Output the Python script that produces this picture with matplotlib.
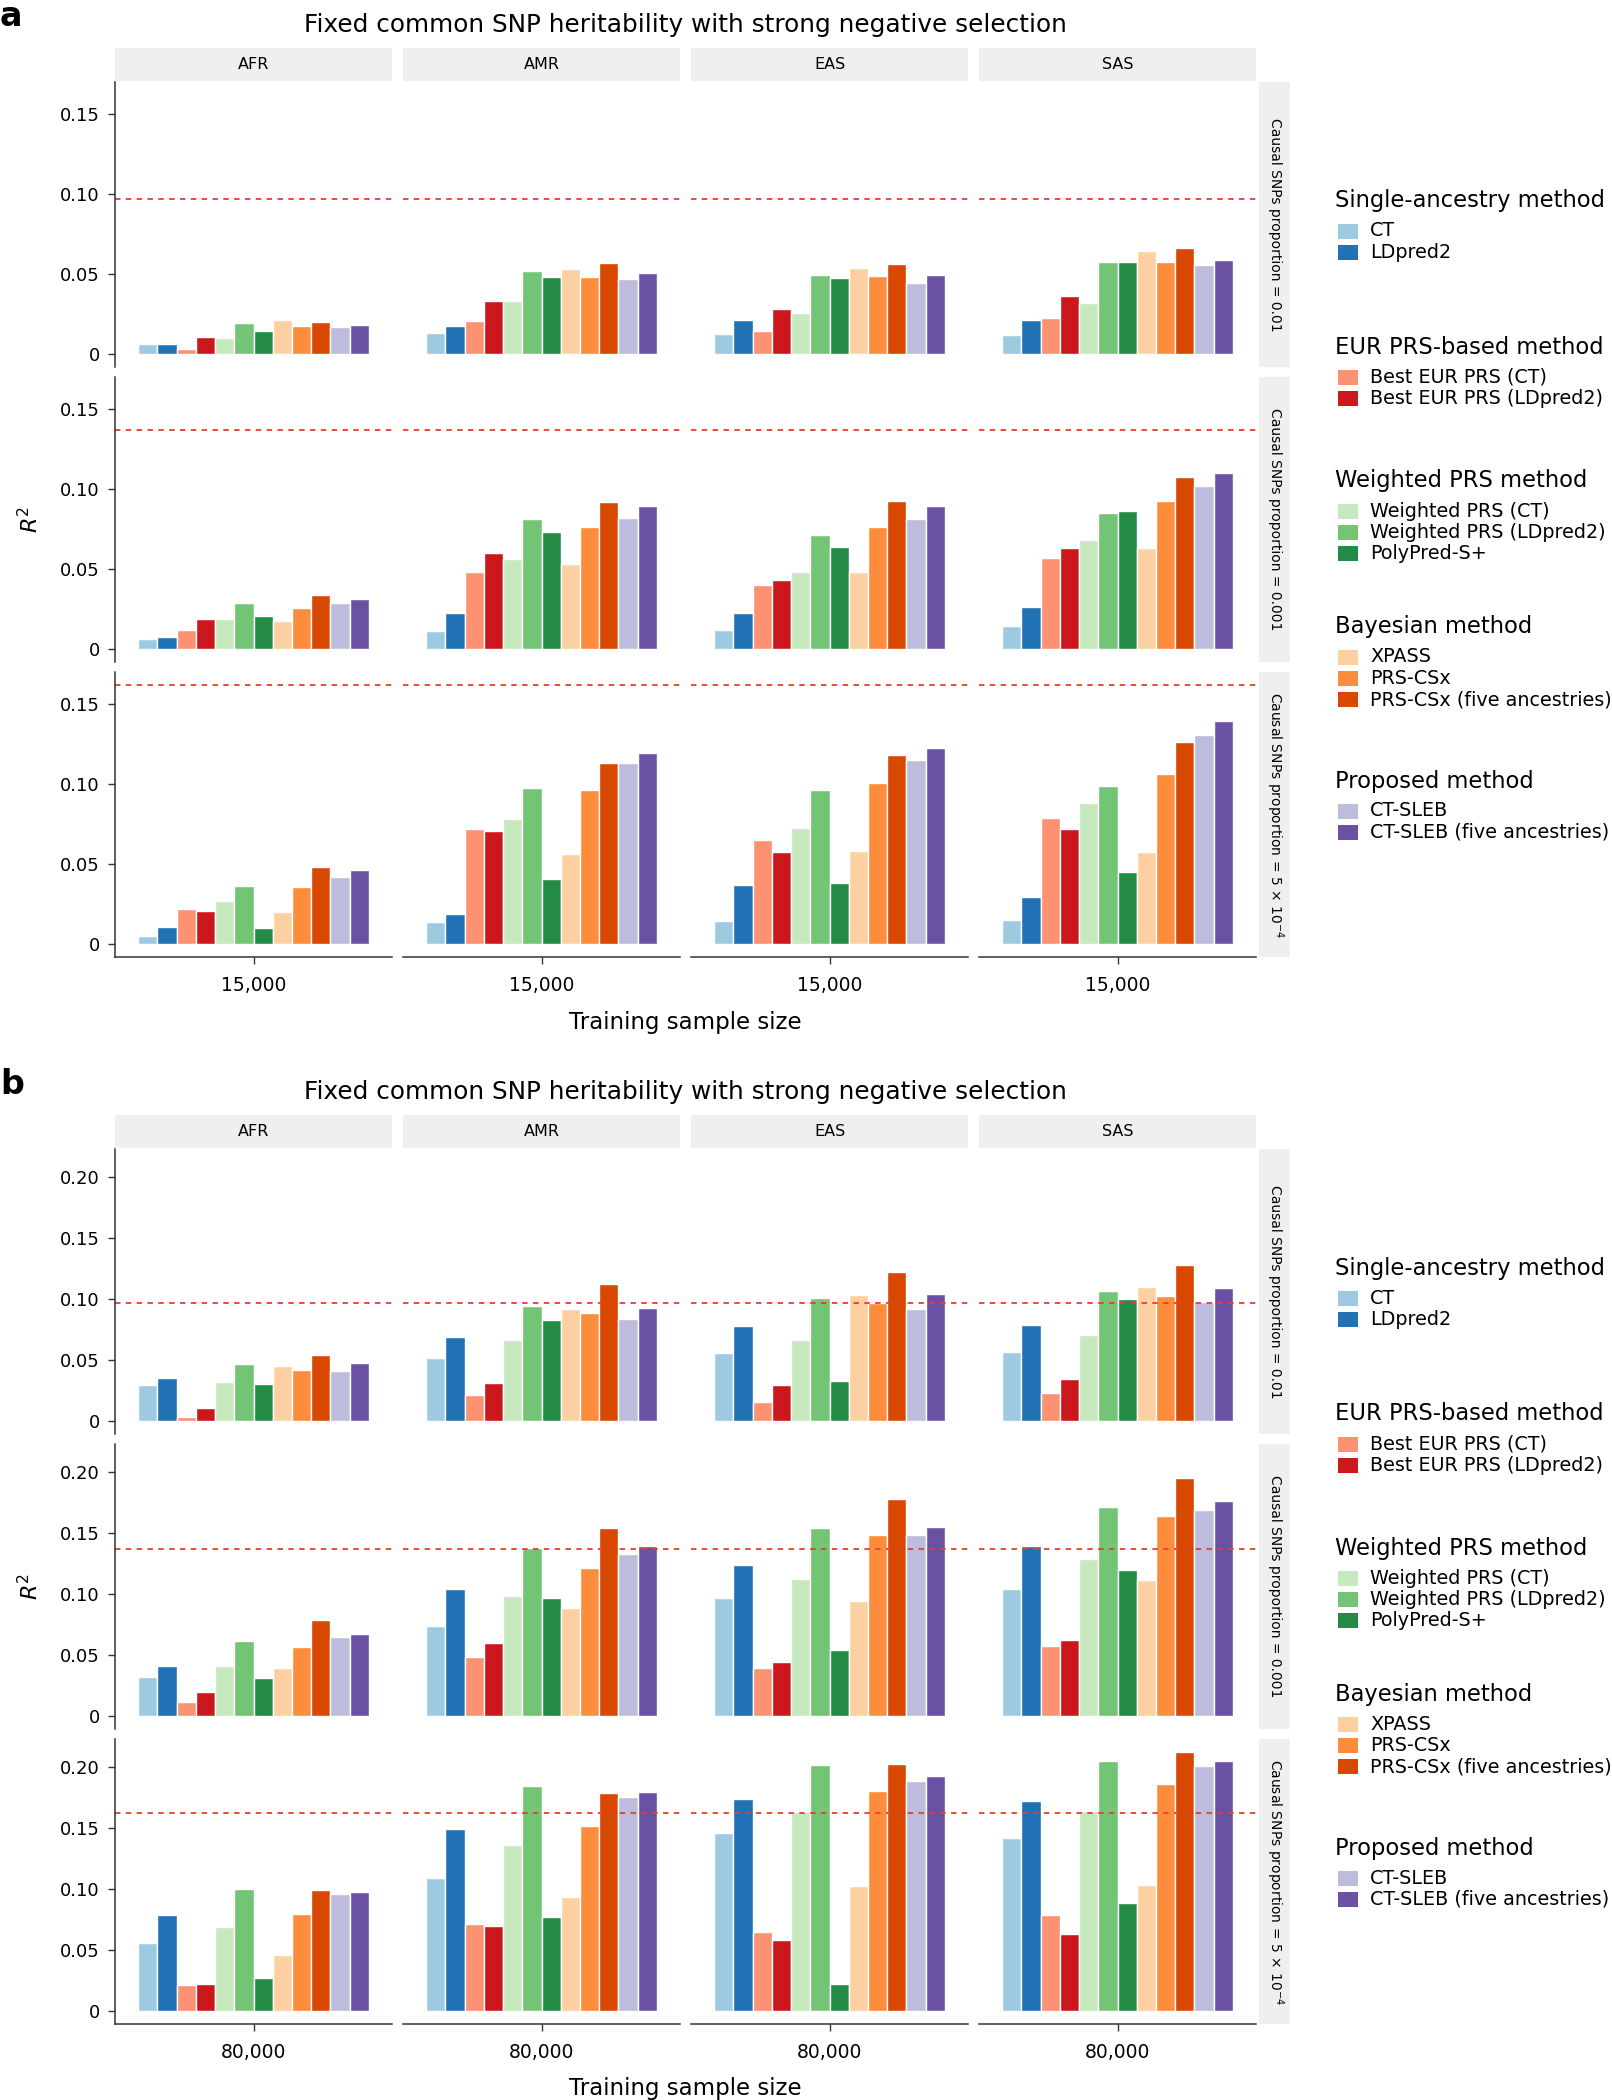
import matplotlib
matplotlib.use("Agg")
import matplotlib.pyplot as plt
from matplotlib import font_manager
from matplotlib.patches import Rectangle
from matplotlib.ticker import MultipleLocator, FuncFormatter

# ---- data ----
methods = ["CT", "LDpred2", "Best EUR PRS (CT)", "Best EUR PRS (LDpred2)",
           "Weighted PRS (CT)", "Weighted PRS (LDpred2)", "PolyPred-S+",
           "XPASS", "PRS-CSx", "PRS-CSx (five ancestries)",
           "CT-SLEB", "CT-SLEB (five ancestries)"]
colors = ["#9ecae1", "#2171b5", "#fc9272", "#cb181d", "#c7e9c0", "#74c476",
          "#238b45", "#fdd0a2", "#fd8d3c", "#d94801", "#bcbddc", "#6a51a3"]
group_titles = ["Single-ancestry method", "EUR PRS-based method",
                "Weighted PRS method", "Bayesian method", "Proposed method"]
group_sizes = [2, 2, 3, 3, 2]
ancestries = ["AFR", "AMR", "EAS", "SAS"]
prop_labels = ["Causal SNPs proportion = 0.01",
               "Causal SNPs proportion = 0.001",
               r"Causal SNPs proportion = 5 $\times$ 10$^{-4}$"]
h2_lines = [0.097, 0.137, 0.162]
title = "Fixed common SNP heritability with strong negative selection"

# panel a, training sample size 15,000  (rows: AFR, AMR, EAS, SAS)
a_p01 = [[0.0063, 0.0063, 0.0030, 0.0104, 0.0098, 0.0192, 0.0146, 0.0213, 0.0175, 0.0200, 0.0167, 0.0183],
         [0.0129, 0.0177, 0.0204, 0.0333, 0.0333, 0.0519, 0.0483, 0.0530, 0.0479, 0.0570, 0.0467, 0.0504],
         [0.0124, 0.0212, 0.0145, 0.0284, 0.0257, 0.0496, 0.0477, 0.0537, 0.0490, 0.0566, 0.0442, 0.0496],
         [0.0118, 0.0210, 0.0224, 0.0361, 0.0317, 0.0577, 0.0577, 0.0647, 0.0577, 0.0660, 0.0554, 0.0591]]
a_p001 = [[0.0065, 0.0077, 0.0119, 0.0190, 0.0186, 0.0287, 0.0205, 0.0176, 0.0255, 0.0337, 0.0287, 0.0310],
          [0.0113, 0.0224, 0.0483, 0.0600, 0.0560, 0.0816, 0.0734, 0.0533, 0.0764, 0.0920, 0.0818, 0.0895],
          [0.0119, 0.0224, 0.0400, 0.0429, 0.0481, 0.0713, 0.0640, 0.0483, 0.0760, 0.0927, 0.0812, 0.0895],
          [0.0144, 0.0262, 0.0570, 0.0631, 0.0680, 0.0849, 0.0862, 0.0631, 0.0925, 0.1075, 0.1021, 0.1098]]
a_p5e4 = [[0.0052, 0.0107, 0.0220, 0.0205, 0.0272, 0.0362, 0.0100, 0.0199, 0.0357, 0.0480, 0.0422, 0.0466],
          [0.0136, 0.0186, 0.0719, 0.0708, 0.0784, 0.0978, 0.0407, 0.0560, 0.0963, 0.1130, 0.1135, 0.1197],
          [0.0144, 0.0368, 0.0650, 0.0577, 0.0723, 0.0963, 0.0384, 0.0581, 0.1007, 0.1185, 0.1153, 0.1227],
          [0.0148, 0.0293, 0.0788, 0.0719, 0.0880, 0.0990, 0.0451, 0.0573, 0.1061, 0.1266, 0.1304, 0.1396]]

# panel b, training sample size 80,000
b_p01 = [[0.0293, 0.0353, 0.0033, 0.0104, 0.0318, 0.0466, 0.0304, 0.0452, 0.0419, 0.0545, 0.0411, 0.0479],
         [0.0518, 0.0685, 0.0211, 0.0312, 0.0663, 0.0942, 0.0825, 0.0920, 0.0888, 0.1123, 0.0833, 0.0923],
         [0.0556, 0.0780, 0.0153, 0.0299, 0.0663, 0.1008, 0.0326, 0.1030, 0.0967, 0.1219, 0.0920, 0.1038],
         [0.0564, 0.0789, 0.0230, 0.0342, 0.0704, 0.1066, 0.0997, 0.1099, 0.1022, 0.1277, 0.0975, 0.1090]]
b_p001 = [[0.0318, 0.0411, 0.0115, 0.0197, 0.0406, 0.0617, 0.0313, 0.0390, 0.0565, 0.0787, 0.0647, 0.0672],
          [0.0740, 0.1042, 0.0483, 0.0598, 0.0987, 0.1380, 0.0971, 0.0889, 0.1215, 0.1539, 0.1328, 0.1396],
          [0.0965, 0.1240, 0.0395, 0.0439, 0.1127, 0.1539, 0.0543, 0.0941, 0.1487, 0.1777, 0.1487, 0.1552],
          [0.1037, 0.1390, 0.0570, 0.0625, 0.1289, 0.1717, 0.1199, 0.1114, 0.1637, 0.1947, 0.1692, 0.1758]]
b_p5e4 = [[0.0556, 0.0786, 0.0216, 0.0219, 0.0688, 0.1000, 0.0271, 0.0463, 0.0792, 0.0989, 0.0959, 0.0978],
          [0.1090, 0.1493, 0.0715, 0.0696, 0.1359, 0.1847, 0.0767, 0.0934, 0.1520, 0.1789, 0.1753, 0.1797],
          [0.1455, 0.1734, 0.0647, 0.0586, 0.1630, 0.2019, 0.0225, 0.1027, 0.1803, 0.2027, 0.1888, 0.1923],
          [0.1416, 0.1720, 0.0784, 0.0633, 0.1641, 0.2049, 0.0885, 0.1033, 0.1863, 0.2123, 0.2011, 0.2049]]

# ---- layout (pixels) ----
W, H = 1612, 2100
col_x = [115, 403, 691, 979]
col_w = 277
row_h, row_gap = 285, 10
axis_col = "#333333"
strip_bg = "#efefef"

try:
    font_manager.findfont("Liberation Sans Narrow", fallback_to_default=False)
    strip_font, strip_size = "Liberation Sans Narrow", 13
except ValueError:
    strip_font, strip_size = "DejaVu Sans", 10

plt.rcParams["font.family"] = ["DejaVu Sans"]

fig = plt.figure(figsize=(W / 100, H / 100), dpi=100)


def fx(x):
    return x / W


def fy(y):
    return 1 - y / H


def rect(x0, y0, w, h):
    return [fx(x0), fy(y0 + h), w / W, h / H]


def fmt(v, pos):
    return "0" if abs(v) < 1e-9 else f"{v:.2f}"


def draw_panel(top, letter, rows, sample):
    vmax = max(max(max(r) for r in block) for block in rows)
    vmax = max(vmax, max(h2_lines))
    ylim = (-0.05 * vmax, 1.05 * vmax)
    mid_x = col_x[0] + (col_x[-1] + col_w - col_x[0]) / 2

    fig.text(fx(0), fy(top + 17), letter, fontsize=24, fontweight="bold", va="center", ha="left")
    fig.text(fx(mid_x), fy(top + 25), title, fontsize=17.8, ha="center", va="center")

    # column strips
    for j, anc in enumerate(ancestries):
        sa = fig.add_axes(rect(col_x[j], top + 48, col_w, 33))
        sa.set_facecolor(strip_bg)
        sa.set_xticks([]); sa.set_yticks([])
        for s in sa.spines.values():
            s.set_visible(False)
        sa.text(0.5, 0.5, anc, fontsize=11.5, ha="center", va="center", transform=sa.transAxes)

    n = len(methods)
    bw = 1.0 / n
    xs = [1 + (i - (n - 1) / 2) * bw for i in range(n)]

    for r, block in enumerate(rows):
        y0 = top + 82 + r * (row_h + row_gap)
        for j in range(len(ancestries)):
            ax = fig.add_axes(rect(col_x[j], y0, col_w, row_h))
            ax.bar(xs, block[j], width=bw, color=colors, edgecolor="white", linewidth=1.0)
            ax.axhline(h2_lines[r], color="#ee3a2c", lw=1.3, ls=(0, (3, 3)))
            ax.set_xlim(0.4, 1.6)
            ax.set_ylim(*ylim)
            ax.yaxis.set_major_locator(MultipleLocator(0.05))
            ax.yaxis.set_major_formatter(FuncFormatter(fmt))
            for s in ax.spines.values():
                s.set_visible(False)
            ax.tick_params(colors=axis_col, labelcolor="black", labelsize=13,
                           length=5, width=1.0)
            if j == 0:
                ax.spines["left"].set_visible(True)
                ax.spines["left"].set_color(axis_col)
                ax.spines["left"].set_linewidth(1.1)
                ax.tick_params(axis="y", pad=6)
            else:
                ax.tick_params(axis="y", left=False, labelleft=False)
            if r == len(rows) - 1:
                ax.spines["bottom"].set_visible(True)
                ax.spines["bottom"].set_color(axis_col)
                ax.spines["bottom"].set_linewidth(1.1)
                ax.set_xticks([1])
                ax.set_xticklabels([sample])
                ax.tick_params(axis="x", pad=9, labelsize=13.5)
            else:
                ax.set_xticks([])
        # row strip on the right
        ra = fig.add_axes(rect(1259, y0, 31, row_h))
        ra.set_facecolor(strip_bg)
        ra.set_xticks([]); ra.set_yticks([])
        for s in ra.spines.values():
            s.set_visible(False)
        ra.text(0.5, 0.5, prop_labels[r], rotation=-90, ha="center", va="center",
                fontsize=strip_size, family=[strip_font, "DejaVu Sans"], transform=ra.transAxes)

    bottom = top + 82 + 3 * row_h + 2 * row_gap
    fig.text(fx(mid_x), fy(bottom + 65), "Training sample size", fontsize=16.5,
             ha="center", va="center")
    fig.text(fx(30), fy((top + 82 + bottom) / 2), r"$R^2$", rotation=90, fontsize=16,
             ha="center", va="center")

    # legend
    title_y = [201, 347, 481, 627, 781]
    k = 0
    for g, (gt, gs) in enumerate(zip(group_titles, group_sizes)):
        ty = top + title_y[g]
        fig.text(fx(1335), fy(ty), gt, fontsize=16.3, ha="left", va="center")
        for m in range(gs):
            iy = ty + 30 + m * 21.4
            fig.add_artist(Rectangle((fx(1338), fy(iy + 7.5)), 20 / W, 15 / H,
                                     transform=fig.transFigure, facecolor=colors[k],
                                     edgecolor="none"))
            fig.text(fx(1370), fy(iy), methods[k], fontsize=13.8, ha="left", va="center")
            k += 1


draw_panel(0, "a", [a_p01, a_p001, a_p5e4], "15,000")
draw_panel(1067, "b", [b_p01, b_p001, b_p5e4], "80,000")

fig.savefig("out.png", dpi=100)
